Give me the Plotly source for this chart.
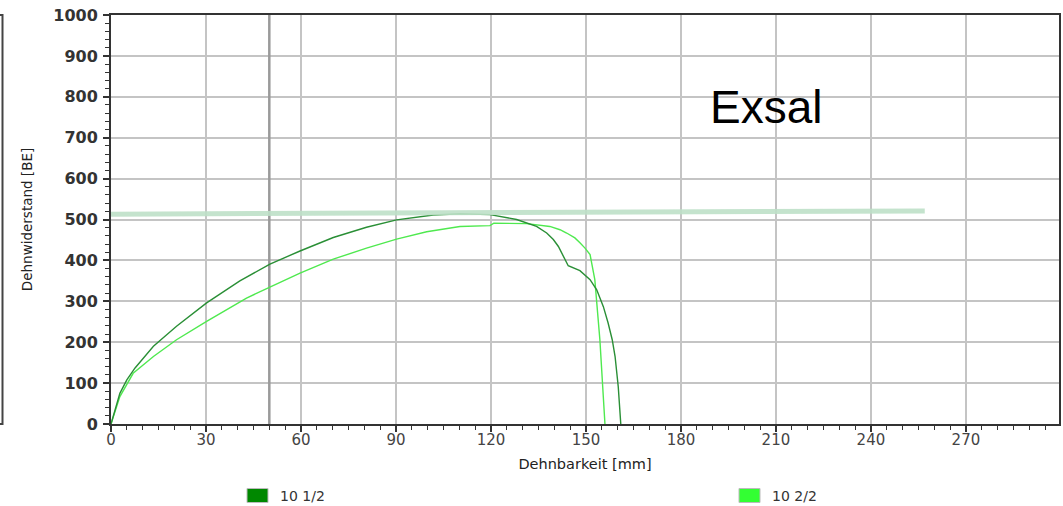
import plotly.graph_objects as go

# Series 1: "10 1/2"
s1_x = [0, 2.8, 5, 7.6, 13.4, 20.7, 30.2, 40.7, 50.2, 59.7, 70.2, 80.7, 90.2, 101.8, 110.2,
        119.7, 128.1, 134.4, 137.6, 139.7, 141.3, 142.8, 143.9, 144.4, 148.1, 151.3, 153.4,
        155.5, 157, 158.3, 159.2, 160.2, 161]
s1_y = [0, 75, 108, 137, 190, 239, 296, 350, 391, 423, 456, 481, 499, 511, 514,
        512, 500, 483, 467, 451, 434, 410, 393, 387, 375, 353, 328,
        287, 247, 206, 165, 91, 0]

# Series 2: "10 2/2"
s2_x = [0, 2.8, 7, 13.4, 20.7, 30.2, 42.8, 50.2, 59.7, 70.2, 80.7, 90.2, 99.7, 110.2,
        119.7, 120.9, 131.3, 138.6, 141.8, 143.9, 146.5, 148.1, 149.7, 151.3, 152.8, 154.4, 156]
s2_y = [0, 67, 124, 165, 206, 251, 308, 335, 369, 403, 430, 452, 470, 483,
        485, 491, 490, 483, 475, 467, 455, 443, 430, 414, 353, 206, 0]

series_names = ["10 1/2", "10 2/2"]
series_colors = ["#2a8f36", "#4fe94f"]
legend_colors = ["#008800", "#33ff33"]

# Reference lines
ref_line_x = [0, 257]
ref_line_y = [513, 521]
marker_x = 50

x_ticks = [0, 30, 60, 90, 120, 150, 180, 210, 240, 270]
y_ticks = [0, 100, 200, 300, 400, 500, 600, 700, 800, 900, 1000]

fig = go.Figure()

fig.add_trace(go.Scatter(x=[marker_x, marker_x], y=[0, 1000], mode="lines",
                         line=dict(color="#9a9a9a", width=2.5), showlegend=False, hoverinfo="skip"))
fig.add_trace(go.Scatter(x=s2_x, y=s2_y, mode="lines", name=series_names[1],
                         line=dict(color=series_colors[1], width=1.4), showlegend=False))
fig.add_trace(go.Scatter(x=s1_x, y=s1_y, mode="lines", name=series_names[0],
                         line=dict(color=series_colors[0], width=1.4), showlegend=False))
fig.add_trace(go.Scatter(x=ref_line_x, y=ref_line_y, mode="lines",
                         line=dict(color="rgba(190,224,200,0.9)", width=5), showlegend=False, hoverinfo="skip"))

# page body margin removed below, so page pixels == figure pixels
W, H = 1063, 506
PL, PR, PT, PB = 111, 1059, 15, 424  # plot area in pixels
L, R, T, B = PL, W - PR, PT, H - PB
pw, ph = PR - PL, PB - PT

def px_x(p):
    return (p - PL) / pw

def px_y(p):
    return (PB - p) / ph

fig.update_xaxes(
    range=[0, 299.4], tickvals=x_ticks, ticks="outside", ticklen=6, tickwidth=1.5, tickcolor="#333",
    showline=True, linecolor="#333", linewidth=2, mirror=True,
    showgrid=True, gridcolor="#c4c4c4", gridwidth=1.5, zeroline=False,
    minor=dict(dtick=5, ticks="outside", ticklen=4, tickwidth=1, tickcolor="#333", showgrid=False),
    tickfont=dict(family="DejaVu Sans", size=15, color="#444444"),
    ticklabelstandoff=-5, ticklabeloverflow="allow",
    title=dict(text="Dehnbarkeit [mm]", font=dict(family="DejaVu Sans", size=14.5, color="#222"), standoff=11),
    automargin=False,
)
fig.update_yaxes(
    range=[0, 1000], tickvals=y_ticks, ticks="outside", ticklen=6, tickwidth=1.5, tickcolor="#333",
    showline=True, linecolor="#333", linewidth=2, mirror=True,
    showgrid=True, gridcolor="#c4c4c4", gridwidth=1.5, zeroline=False,
    minor=dict(dtick=20, ticks="outside", ticklen=4, tickwidth=1, tickcolor="#333", showgrid=False),
    tickfont=dict(family="DejaVu Sans", size=16, color="#333333", weight="bold"),
    ticklabelstandoff=2, ticklabeloverflow="allow",
    title=dict(text="Dehnwiderstand [BE]", font=dict(family="DejaVu Sans", size=13.5, color="#222"), standoff=18),
    automargin=False,
)

shapes = [
    # edge of neighbouring panel on the far left
    dict(type="rect", xref="paper", yref="paper", x0=px_x(-10), x1=px_x(2.5), y0=0, y1=1,
         line=dict(color="#444", width=2), fillcolor="rgba(0,0,0,0)"),
]
annotations = [
    dict(text="Exsal", xref="paper", yref="paper", x=px_x(766), y=px_y(107), xanchor="center", yanchor="middle",
         showarrow=False, font=dict(family="Liberation Sans", size=46, color="#000")),
]

# legend (manual)
legend_pos = [247, 739]
for name, col, lx in zip(series_names, legend_colors, legend_pos):
    shapes.append(dict(type="rect", xref="paper", yref="paper", x0=px_x(lx), x1=px_x(lx + 21),
                       y0=px_y(502.5), y1=px_y(488.5), line=dict(color="#bbbbbb", width=1), fillcolor=col))
    annotations.append(dict(text=name, xref="paper", yref="paper", x=px_x(lx + 31), y=px_y(495.5),
                            xanchor="left", yanchor="middle", showarrow=False,
                            font=dict(family="DejaVu Sans", size=14, color="#333")))

fig.update_layout(
    width=W, height=H, margin=dict(l=L, r=R, t=T, b=B),
    paper_bgcolor="white", plot_bgcolor="white",
    showlegend=False, shapes=shapes, annotations=annotations,
)

fig.write_html("out.html", config={"displayModeBar": False},
               post_script="document.body.style.margin='0px';")
